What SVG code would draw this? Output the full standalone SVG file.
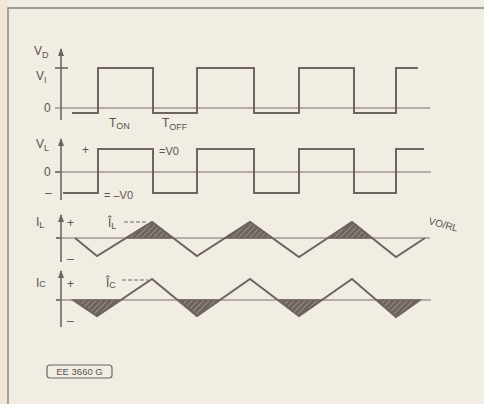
<svg xmlns="http://www.w3.org/2000/svg" width="484" height="404" viewBox="0 0 484 404">
<defs>
<style>
.bg{fill:#f2ede3}
.frame{fill:none;stroke:#8a817b;stroke-width:1.4}
.wave{fill:none;stroke:#6e6560;stroke-width:2;stroke-linejoin:miter}
.zero{fill:none;stroke:#7a716b;stroke-width:1.2}
.axis{fill:none;stroke:#6e6560;stroke-width:1.6}
.dash{fill:none;stroke:#6e6560;stroke-width:1.2;stroke-dasharray:4,2}
.shade{fill:url(#hatch);stroke:#6e6560;stroke-width:1.5}
text{font-family:"Liberation Sans",Arial,sans-serif;fill:#5a524d;font-size:12px}
.sub{font-size:9px}
</style>
<pattern id="hatch" patternUnits="userSpaceOnUse" width="4" height="4" patternTransform="rotate(45)">
<rect width="4" height="4" fill="#6e625c"/>
<line x1="0" y1="0" x2="0" y2="4" stroke="#b5aca4" stroke-width="1.2"/>
</pattern>
<marker id="arr" markerWidth="8" markerHeight="6" refX="7" refY="3" orient="auto" markerUnits="userSpaceOnUse">
<path d="M0,0 L8,3 L0,6 Z" fill="#6e6560"/>
</marker>
</defs>
<rect class="bg" x="0" y="0" width="484" height="404"/>
<rect x="0" y="0" width="8" height="404" fill="#f3e6d6"/>
<path class="frame" d="M8,404 V8 H484"/>

<g id="vd-panel">
<line class="axis" x1="61" y1="120" x2="61" y2="49" marker-end="url(#arr)"/>
<line class="axis" x1="55" y1="68" x2="68" y2="68"/>
<line class="zero" x1="55" y1="108" x2="430" y2="108"/>
<path class="wave" d="M72,113 H98 V68 H153 V113 H197 V68 H254 V113 H299 V68 H354 V113 H396 V68 H418"/>
<text x="34" y="55">V<tspan class="sub" dy="3">D</tspan></text>
<text x="36" y="80">V<tspan class="sub" dy="3">I</tspan></text>
<text x="44" y="112">0</text>
<text x="109" y="127">T<tspan class="sub" dy="2">ON</tspan></text>
<text x="162" y="127">T<tspan class="sub" dy="3">OFF</tspan></text>
</g>

<g id="vl-panel">
<line class="axis" x1="61" y1="200" x2="61" y2="139" marker-end="url(#arr)"/>
<line class="axis" x1="55" y1="172" x2="61" y2="172"/>
<line class="zero" x1="55" y1="172" x2="431" y2="172"/>
<path class="wave" d="M63,193 H98 V149 H153 V193 H197 V149 H254 V193 H299 V149 H354 V193 H396 V149 H424"/>
<text x="36" y="148">V<tspan class="sub" dy="3">L</tspan></text>
<text x="82" y="154">+</text>
<text x="44" y="176">0</text>
<text x="45" y="197">–</text>
<text x="159" y="155" style="font-size:11px">=V0</text>
<text x="104" y="199" style="font-size:11px">= –V0</text>
</g>

<g id="il-panel">
<line class="axis" x1="61" y1="262" x2="61" y2="215" marker-end="url(#arr)"/>
<line class="axis" x1="56" y1="238" x2="61" y2="238"/>
<line class="zero" x1="56" y1="238" x2="430" y2="238"/>
<path class="shade" d="M126,238 L152,222 L173,238 Z"/>
<path class="shade" d="M225,238 L250,222 L272,238 Z"/>
<path class="shade" d="M328,238 L352,222 L372,238 Z"/>
<path class="wave" d="M75,238 L97,256 L152,222 L197,256 L250,222 L299,257 L352,222 L396,257 L425,238"/>
<text x="36" y="226">I<tspan class="sub" dy="2">L</tspan></text>
<text x="67" y="227">+</text>
<text x="67" y="263">–</text>
<text x="108" y="227">Î<tspan class="sub" dy="2">L</tspan></text>
<line class="dash" x1="124" y1="222" x2="148" y2="222"/>
<text x="428" y="224" transform="rotate(15 428 224)" style="font-size:10px">VO/RL</text>
</g>

<g id="ic-panel">
<line class="axis" x1="61" y1="327" x2="61" y2="271" marker-end="url(#arr)"/>
<line class="axis" x1="56" y1="300" x2="61" y2="300"/>
<line class="zero" x1="56" y1="300" x2="431" y2="300"/>
<path class="shade" d="M73,300 L97,316 L121,300 Z"/>
<path class="shade" d="M178,300 L197,316 L220,300 Z"/>
<path class="shade" d="M278,300 L299,316 L322,300 Z"/>
<path class="shade" d="M377,300 L396,317 L420,300 Z"/>
<path class="wave" d="M73,300 L97,316 L152,279 L197,316 L250,279 L299,316 L352,279 L396,317 L420,300"/>
<text x="36" y="287">I<tspan class="sub">C</tspan></text>
<text x="67" y="288">+</text>
<text x="67" y="325">–</text>
<text x="106" y="287">Î<tspan class="sub" dy="1">C</tspan></text>
<line class="dash" x1="122" y1="280" x2="148" y2="280"/>
</g>

<g id="ref-label">
<rect x="47" y="365" width="65" height="13" rx="3" fill="none" stroke="#6e6560" stroke-width="1.2"/>
<text x="79.5" y="375" text-anchor="middle" style="font-size:9.5px">EE 3660 G</text>
</g>
</svg>
